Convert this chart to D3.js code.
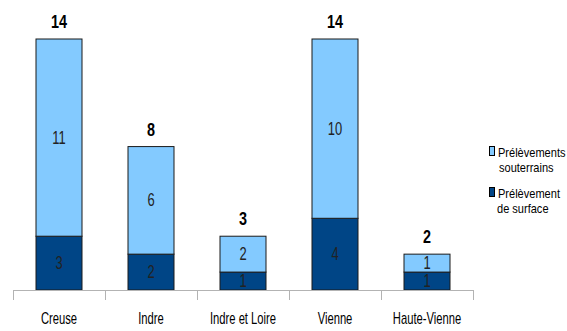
<!DOCTYPE html>
<html>
<head>
<meta charset="utf-8">
<script src="https://cdn.jsdelivr.net/npm/d3@7"></script>
<style>
  body { margin: 0; background: #fff; }
  text { font-family: "Liberation Sans", Arial, sans-serif; }
</style>
</head>
<body>
<script>
var categories = ['Creuse', 'Indre', 'Indre et Loire', 'Vienne', 'Haute-Vienne'];
var surface = [3, 2, 1, 4, 1];
var souterrains = [11, 6, 2, 10, 1];
var seriesNames = [['Prélèvements', 'souterrains'], ['Prélèvement', 'de surface']];
var colors = ['#83caff', '#004586'];

var width = 567,
    height = 331;

var svg = d3.select('body')
  .append('svg')
  .attr('width', width)
  .attr('height', height);

var x = d3.scaleBand()
  .domain(categories)
  .range([13, 473])
  .paddingInner(0.5)
  .paddingOuter(0.25);

var y = d3.scaleLinear()
  .domain([0, 14])
  .range([290, 39]);

// squashed text helper, the original fonts are very narrow
function label(parent, tx, ty, str, size, sx, weight, fill) {
  return parent.append('text')
    .attr('transform', 'translate(' + tx + ',' + ty + ') scale(' + sx + ',1)')
    .attr('text-anchor', 'middle')
    .attr('font-size', size)
    .attr('font-weight', weight || 'normal')
    .attr('fill', fill || '#000')
    .text(str);
}

var rows = categories.map(function(c, i) {
  return { cat: c, surface: surface[i], souterrains: souterrains[i] };
});

var stack = d3.stack().keys(['souterrains', 'surface']);
var layers = d3.stack().keys(['surface', 'souterrains'])(rows);

var g = svg.append('g');

layers.forEach(function(layer) {
  var col = layer.key == 'surface' ? colors[1] : colors[0];
  g.selectAll(null)
    .data(layer)
    .enter()
    .append('rect')
    .attr('x', function(d) { return x(d.data.cat); })
    .attr('y', function(d) { return y(d[1]); })
    .attr('width', x.bandwidth())
    .attr('height', function(d) { return y(d[0]) - y(d[1]); })
    .attr('fill', col)
    .attr('stroke', '#1a1a1a')
    .attr('stroke-width', 1);

  layer.forEach(function(d) {
    var cy = (y(d[0]) + y(d[1])) / 2 + 6;
    label(g, x(d.data.cat) + x.bandwidth() / 2, cy, d[1] - d[0], 18, 0.72, 'normal', '#222');
  });
});

// totals
rows.forEach(function(d) {
  var tot = d.surface + d.souterrains;
  label(g, x(d.cat) + x.bandwidth() / 2, y(tot) - 11, tot, 18, 0.8, 'bold', '#000');
});

// axis
var step = x.step();
var gap = step - x.bandwidth();
var bounds = categories.map(function(c) { return x(c) - gap / 2; });
bounds.push(x(categories[categories.length - 1]) + x.bandwidth() + gap / 2);

var axis = svg.append('g').attr('stroke', '#b3b3b3').attr('stroke-width', 1);
axis.append('line')
  .attr('x1', bounds[0]).attr('x2', bounds[bounds.length - 1])
  .attr('y1', y(0) + 0.5).attr('y2', y(0) + 0.5);
axis.selectAll(null)
  .data(bounds)
  .enter()
  .append('line')
  .attr('x1', function(d) { return Math.round(d) + 0.5; })
  .attr('x2', function(d) { return Math.round(d) + 0.5; })
  .attr('y1', y(0))
  .attr('y2', y(0) + 10);

categories.forEach(function(c) {
  label(svg, x(c) + x.bandwidth() / 2, 324, c, 17, 0.66, 'normal', '#000');
});

// legend
var legend = svg.append('g');
var legY = [146, 187];
seriesNames.forEach(function(n, i) {
  legend.append('rect')
    .attr('x', 489.5).attr('y', legY[i] + 0.5)
    .attr('width', 5).attr('height', 9)
    .attr('fill', colors[i])
    .attr('stroke', '#000');
  legend.append('text')
    .attr('transform', 'translate(498,' + (legY[i] + 11) + ') scale(0.85,1)')
    .attr('font-size', 13)
    .text(n[0]);
  legend.append('text')
    .attr('transform', 'translate(' + (i == 0 ? 499 : 497) + ',' + (legY[i] + 26) + ') scale(0.85,1)')
    .attr('font-size', 13)
    .text(n[1]);
});
</script>
</body>
</html>
